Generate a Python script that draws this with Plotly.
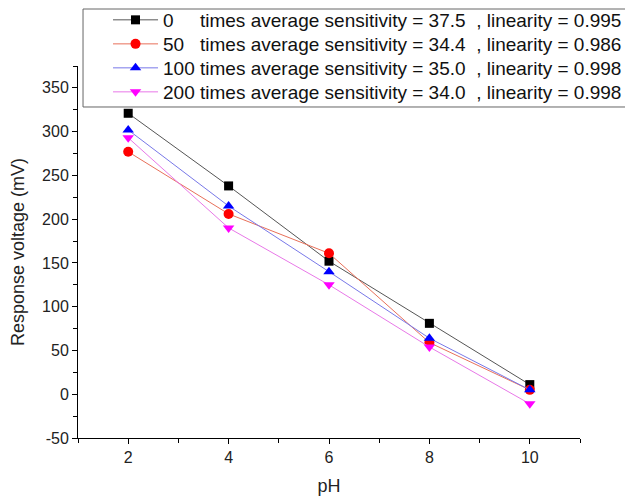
import plotly.graph_objects as go

ph = [2, 4, 6, 8, 10]
v0 = [321, 238, 152, 81, 11]
v50 = [277, 206, 161, 59, 5]
v100 = [302, 215, 140, 64, 5]
v200 = [293, 190, 125, 54, -11]

times = ["0", "50", "100", "200"]
sens = ["37.5", "34.4", "35.0", "34.0"]
lin = ["0.995", "0.986", "0.998", "0.998"]

y_tick_vals = [-50, 0, 50, 100, 150, 200, 250, 300, 350]
y_tick_text = ["-50", "0", "50", "100", "150", "200", "250", "300", "350"]

NB = "\u00a0"
pads = {"0": NB * 5, "50": NB * 3, "100": NB, "200": NB}

def label(i):
    t = times[i]
    return f"{t}{pads[t]}times average sensitivity = {sens[i]}{NB}{NB}, linearity = {lin[i]}"

series = [v0, v50, v100, v200]
line_colors = ["#555555", "#e8705a", "#7878e8", "#e878e8"]
marker_colors = ["#000000", "#ff0000", "#0000ff", "#ff00ff"]
symbols = ["square", "circle", "triangle-up", "triangle-down"]
sizes = [9, 10, 10, 10]
legend_ids = ["legend", "legend2", "legend3", "legend4"]
legend_rows = [1.1237, 1.0591, 0.9946, 0.9301]

fig = go.Figure()
for i, s in enumerate(series):
    fig.add_trace(go.Scatter(
        x=ph, y=s, mode="lines+markers", name=label(i),
        legend=legend_ids[i],
        line=dict(color=line_colors[i], width=1),
        marker=dict(color=marker_colors[i], symbol=symbols[i], size=sizes[i],
                    line=dict(width=0)),
    ))

font = "Liberation Sans, Arial, sans-serif"
legend_style = dict(
    x=0.0598, xanchor="left", yanchor="middle",
    bgcolor="rgba(0,0,0,0)", borderwidth=0,
    font=dict(family=font, size=19, color="#111111"),
    itemwidth=45, tracegroupgap=0,
)
layout_legends = {lid: dict(legend_style, y=legend_rows[i]) for i, lid in enumerate(legend_ids)}

fig.update_layout(
    width=625, height=494,
    margin=dict(l=70, r=53, t=58, b=64, autoexpand=False),
    paper_bgcolor="white", plot_bgcolor="white",
    font=dict(family=font, size=16, color="#222222"),
    showlegend=True,
    shapes=[dict(type="rect", xref="paper", yref="paper",
                 x0=0.010, x1=1.1036, y0=0.8898, y1=1.1532,
                 line=dict(color="#666666", width=1), fillcolor="white", layer="below")],
    xaxis=dict(
        range=[1, 11], showgrid=False, zeroline=False,
        showline=True, linecolor="black", linewidth=1,
        ticks="outside", ticklen=5, tickcolor="black",
        tickmode="linear", tick0=2, dtick=2,
        minor=dict(ticks="outside", ticklen=4, dtick=1, tick0=1, tickcolor="black"),
        title=dict(text="pH", font=dict(size=18), standoff=14),
        tickfont=dict(size=16),
    ),
    yaxis=dict(
        range=[-50, 375], showgrid=False, zeroline=False,
        showline=True, linecolor="black", linewidth=1,
        ticks="outside", ticklen=5, tickcolor="black",
        tickmode="array", tickvals=y_tick_vals, ticktext=y_tick_text,
        minor=dict(ticks="outside", ticklen=4, tickmode="linear", dtick=25, tick0=-50,
                   tickcolor="black"),
        title=dict(text="Response voltage (mV)", font=dict(size=18), standoff=12),
        tickfont=dict(size=16),
    ),
    **layout_legends,
)

fig.write_html("out.html")
